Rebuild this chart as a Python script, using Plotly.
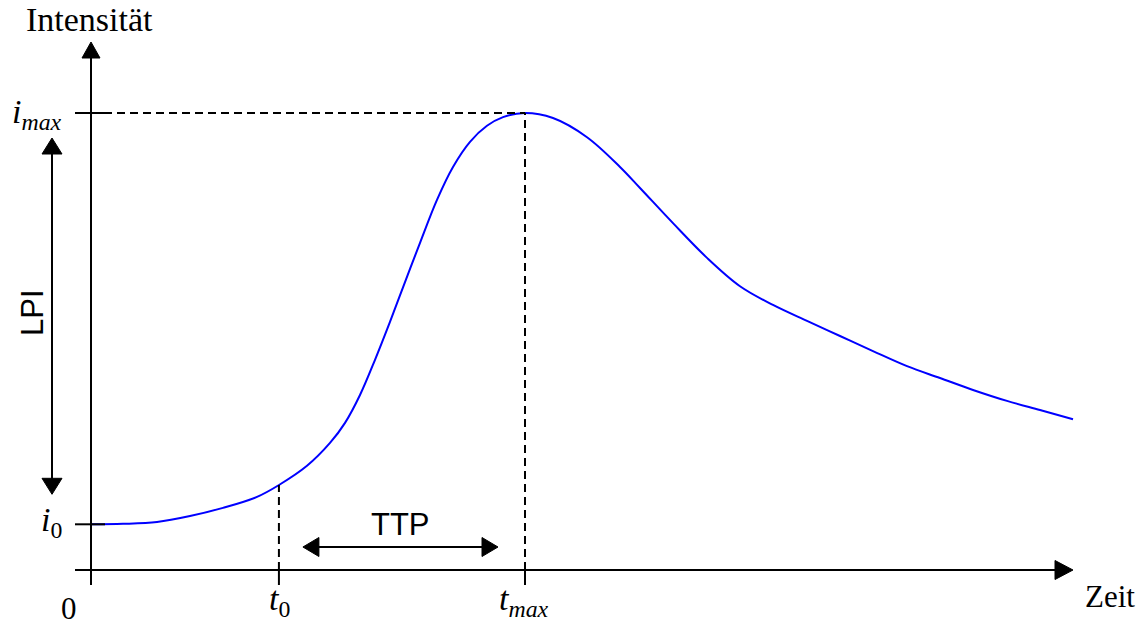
import plotly.graph_objects as go

# Time-intensity curve (arbitrary units: time, normalised intensity)
time = [0.000, 0.737, 1.521, 2.281, 3.041, 3.825, 4.332, 4.977, 5.507, 5.853,
        6.198, 6.544, 6.889, 7.235, 7.581, 7.972, 8.341, 8.733, 9.124, 9.493,
        10.000, 10.645, 11.429, 12.189, 12.650, 13.410, 14.194, 14.954, 15.714,
        16.498, 17.258, 18.018, 18.802, 19.562, 20.323, 21.106, 21.866, 22.627]
intensity = [0.100, 0.101, 0.105, 0.118, 0.136, 0.160, 0.186, 0.228, 0.278,
             0.322, 0.383, 0.460, 0.543, 0.630, 0.716, 0.810, 0.882, 0.937,
             0.972, 0.991, 1.000, 0.989, 0.947, 0.882, 0.836, 0.759, 0.683,
             0.621, 0.580, 0.545, 0.512, 0.479, 0.446, 0.420, 0.394, 0.370,
             0.350, 0.330]

# Key points of the curve
t0, tmax = 4.33, 10.0
i0, imax = 0.100, 1.000
i_at_t0 = 0.186

W, H = 1141, 626
# pixel scale of the drawing and position of the origin
PX_T, PX_I = 43.4, 457.0
ORIGIN_PX = (91, 570)


def dx(px):
    return px / PX_T


def dy(px):
    return px / PX_I


x_range = [-ORIGIN_PX[0] / PX_T, (W - ORIGIN_PX[0]) / PX_T]
y_range = [-(H - ORIGIN_PX[1]) / PX_I, ORIGIN_PX[1] / PX_I]

t_end = time[-1]
i_top = dy(528)

BLACK = "#000000"
LW = 2
DASH = "8px,5px"

fig = go.Figure()
fig.add_trace(go.Scatter(
    x=time, y=intensity, mode="lines",
    line=dict(color="#0000ff", width=2, shape="spline", smoothing=1.0),
    hoverinfo="skip", showlegend=False,
))

shapes = []


def seg(x0, y0, x1, y1, dash=None):
    shapes.append(dict(type="line", xref="x", yref="y", x0=x0, y0=y0, x1=x1, y1=y1,
                       line=dict(color=BLACK, width=LW, dash=dash)))


def head(tip_x, tip_y, direction, length, half):
    # filled triangular arrow head; direction in {"right","left","up","down"}
    if direction == "right":
        pts = [(tip_x, tip_y), (tip_x - dx(length), tip_y + dy(half)), (tip_x - dx(length), tip_y - dy(half))]
    elif direction == "left":
        pts = [(tip_x, tip_y), (tip_x + dx(length), tip_y + dy(half)), (tip_x + dx(length), tip_y - dy(half))]
    elif direction == "up":
        pts = [(tip_x, tip_y), (tip_x - dx(half), tip_y - dy(length)), (tip_x + dx(half), tip_y - dy(length))]
    else:
        pts = [(tip_x, tip_y), (tip_x - dx(half), tip_y + dy(length)), (tip_x + dx(half), tip_y + dy(length))]
    path = "M " + " L ".join(f"{x},{y}" for x, y in pts) + " Z"
    shapes.append(dict(type="path", xref="x", yref="y", path=path,
                       fillcolor=BLACK, line=dict(color=BLACK, width=1)))


# guide lines
seg(0, imax, tmax, imax, DASH)
seg(tmax, 0, tmax, imax, DASH)
seg(t0, 0, t0, i_at_t0, DASH)

# axes
seg(-dx(16), 0, t_end - dx(10), 0)
head(t_end, 0, "right", 18, 9.5)
seg(0, -dy(15), 0, i_top - dy(10))
head(0, i_top, "up", 16, 9)

# ticks
for t in (0, t0, tmax):
    seg(t, 0, t, -dy(15))
for i in (i0, imax):
    seg(-dx(16), i, dx(14), i)

# LPI double arrow
lpi_x = -dx(39)
lpi_lo, lpi_hi = i0 + dy(30), imax - dy(25)
seg(lpi_x, lpi_lo + dy(10), lpi_x, lpi_hi - dy(10))
head(lpi_x, lpi_hi, "up", 16, 10)
head(lpi_x, lpi_lo, "down", 16, 10)

# TTP double arrow
ttp_y = dy(23)
ttp_l, ttp_r = t0 + dx(24), tmax - dx(27)
seg(ttp_l + dx(10), ttp_y, ttp_r - dx(10), ttp_y)
head(ttp_l, ttp_y, "left", 16, 9.5)
head(ttp_r, ttp_y, "right", 16, 9.5)

SERIF = "Liberation Serif"
SANS = "Liberation Sans"


def label(text, px, py, size, family=SERIF, xanchor="center", angle=0):
    return dict(text=text, x=(px - ORIGIN_PX[0]) / PX_T, y=(ORIGIN_PX[1] - py) / PX_I,
                xref="x", yref="y", xanchor=xanchor, yanchor="middle",
                showarrow=False, textangle=angle,
                font=dict(family=family, size=size, color=BLACK))


annotations = [
    label("Intensität", 89, 19, 34),
    label("Zeit", 1110, 596, 31),
    label("0", 69, 608, 31),
    label("<i>i</i><sub><i>max</i></sub>", 64, 114, 34, xanchor="right"),
    label("<i>i</i><sub>0</sub>", 64, 522, 34, xanchor="right"),
    label("<i>t</i><sub>0</sub>", 279, 601, 34),
    label("<i>t</i><sub><i>max</i></sub>", 524, 601, 34),
    label("TTP", 400, 524, 31, family=SANS),
    label("LPI", 32, 313, 31, family=SANS, angle=-90),
]

fig.update_layout(
    width=W, height=H,
    margin=dict(l=0, r=0, t=0, b=0),
    paper_bgcolor="white", plot_bgcolor="white",
    xaxis=dict(range=x_range, visible=False, fixedrange=True),
    yaxis=dict(range=y_range, visible=False, fixedrange=True),
    shapes=shapes, annotations=annotations,
    showlegend=False,
)

fig.write_html("out.html")
